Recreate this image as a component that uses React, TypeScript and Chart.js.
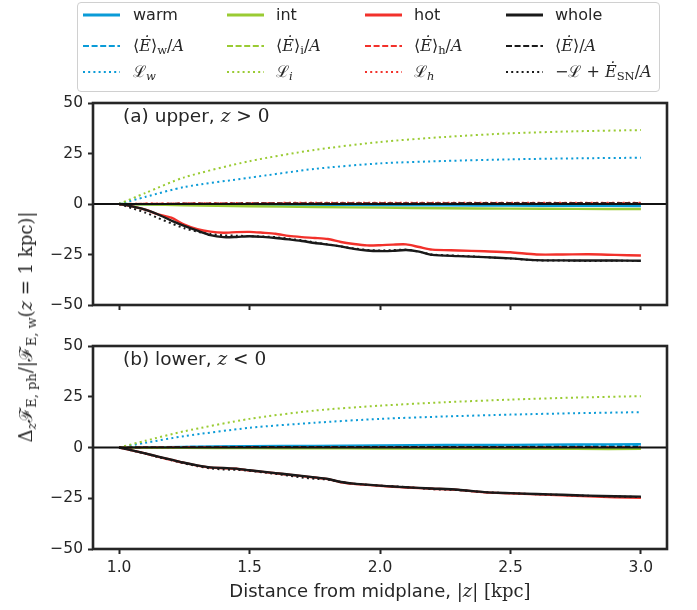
import React, { useEffect, useRef } from "react";
import { Chart, registerables } from "chart.js";
Chart.register(...registerables);

// ---------- data ----------
const xTicks = [1.0, 1.5, 2.0, 2.5, 3.0];
const yTicks = [-50, -25, 0, 25, 50];

const xFine = [1.0, 1.05, 1.1, 1.15, 1.2, 1.25, 1.3, 1.35, 1.4, 1.45, 1.5, 1.55, 1.6, 1.65, 1.7, 1.75, 1.8, 1.85, 1.9, 1.95, 2.0, 2.05, 2.1, 2.15, 2.2, 2.3, 2.4, 2.5, 2.6, 2.7, 2.8, 2.9, 3.0];
const xCoarse = [1.0, 1.1, 1.25, 1.5, 1.75, 2.0, 2.25, 2.5, 2.75, 3.0];

// upper panel (z > 0)
const upWarm = [0, -0.1, -0.2, -0.4, -0.5, -0.6, -0.7, -0.8, -0.9, -1.0];
const upEw = [0, 0.1, 0.1, 0.2, 0.2, 0.2, 0.2, 0.2, 0.2, 0.2];
const upLw = [0, 3.5, 8.4, 13.0, 17.4, 20.1, 21.3, 22.1, 22.6, 22.9];
const upInt = [0, -0.3, -0.6, -1.1, -1.5, -1.8, -2.1, -2.3, -2.4, -2.5];
const upEi = [0, 0, -0.1, -0.1, -0.1, -0.1, -0.1, -0.1, -0.1, -0.1];
const upLi = [0, 5.4, 13.2, 21.2, 26.8, 30.7, 33.2, 35.0, 36.0, 36.6];
const upHot = [0, -1.2, -2.8, -5.1, -6.8, -10.2, -12.5, -13.7, -14.2, -13.9, -13.8, -14.2, -14.7, -15.8, -16.4, -16.8, -17.3, -18.8, -19.8, -20.5, -20.4, -20.1, -20.0, -21.3, -22.6, -23.0, -23.4, -23.9, -25.0, -25.0, -24.9, -25.2, -25.5];
const upEh = [0, 0.2, 0.3, 0.4, 0.5, 0.5, 0.5, 0.6, 0.6, 0.6];
const upLh = [0, 0.2, 0.3, 0.5, 0.6, 0.6, 0.6, 0.6, 0.6, 0.6];
const upWhole = [0, -1.2, -2.8, -5.2, -8.2, -10.8, -13.2, -15.4, -16.4, -16.3, -16.0, -16.3, -16.8, -17.5, -18.3, -19.3, -20.1, -21.0, -22.2, -23.0, -23.3, -23.2, -22.8, -23.6, -25.2, -25.8, -26.3, -26.9, -27.8, -27.9, -28.0, -28.0, -28.1];
const upE = [0, 0.1, 0.2, 0.3, 0.4, 0.4, 0.4, 0.5, 0.5, 0.5];
const upBudget = [0, -2.1, -4.2, -7.0, -9.6, -12.0, -13.7, -14.9, -15.5, -15.7, -15.9, -16.1, -16.4, -17.2, -18.0, -19.0, -20.0, -21.0, -22.0, -22.7, -23.0, -22.8, -22.6, -23.6, -25.0, -25.6, -26.3, -27.0, -27.9, -28.0, -28.2, -28.1, -28.2];

// lower panel (z < 0)
const loWarm = [0, 0.1, 0.3, 0.6, 0.8, 1.0, 1.2, 1.3, 1.5, 1.6];
const loEw = [0, 0.2, 0.4, 0.6, 0.7, 0.8, 0.9, 0.9, 1.0, 1.0];
const loLw = [0, 2.3, 5.6, 9.7, 12.2, 14.1, 15.3, 16.2, 16.9, 17.4];
const loInt = [0, -0.1, -0.2, -0.3, -0.4, -0.5, -0.6, -0.6, -0.7, -0.7];
const loEi = [0, 0, -0.1, -0.1, -0.1, -0.1, -0.1, -0.1, -0.1, -0.1];
const loLi = [0, 3.3, 8.0, 14.1, 18.2, 20.6, 22.3, 23.6, 24.6, 25.3];
const loHot = [0, -1.4, -2.9, -4.6, -6.1, -7.6, -8.9, -9.9, -10.2, -10.5, -11.3, -12.0, -12.7, -13.4, -14.1, -14.8, -15.6, -17.1, -17.9, -18.4, -18.9, -19.3, -19.7, -20.0, -20.3, -20.9, -22.1, -22.6, -23.1, -23.6, -24.1, -24.5, -24.8];
const loEh = [0, 0.1, 0.2, 0.2, 0.3, 0.3, 0.3, 0.3, 0.3, 0.3];
const loLh = [0, 0.1, 0.2, 0.3, 0.3, 0.3, 0.3, 0.3, 0.3, 0.3];
const loWhole = [0, -1.4, -2.9, -4.5, -6.0, -7.5, -8.8, -9.8, -10.1, -10.4, -11.2, -11.9, -12.6, -13.3, -14.0, -14.7, -15.5, -17.0, -17.8, -18.3, -18.8, -19.2, -19.6, -19.9, -20.2, -20.8, -22.0, -22.5, -22.9, -23.3, -23.7, -24.0, -24.2];
const loE = [0, 0.1, 0.2, 0.3, 0.3, 0.4, 0.4, 0.4, 0.4, 0.4];
const loBudget = [0, -1.5, -3.0, -4.7, -6.3, -7.8, -9.2, -10.3, -10.8, -11.0, -11.5, -12.2, -13.0, -13.9, -14.8, -15.4, -15.8, -17.0, -17.8, -18.3, -18.8, -19.1, -19.5, -20.0, -20.5, -21.0, -22.0, -22.5, -23.0, -23.4, -23.8, -24.1, -24.4];

// ---------- styles ----------
const BLUE = "#0a9bd7";
const GREEN = "#9acb33";
const RED = "#f2312b";
const BLACK = "#1a1a1a";
const INK = "#262626";

type Sty = "solid" | "dashed" | "dotted";
const DASH: Record<Sty, number[]> = { solid: [], dashed: [5.5, 2.4], dotted: [2, 3.3] };
const WIDTH: Record<Sty, number> = { solid: 2.4, dashed: 1.6, dotted: 2 };

type Series = { color: string; sty: Sty; xs: number[]; up: number[]; lo: number[] };
// plotting order as in the original (column-major legend order)
const SERIES: Series[] = [
  { color: BLUE, sty: "solid", xs: xCoarse, up: upWarm, lo: loWarm },
  { color: BLUE, sty: "dashed", xs: xCoarse, up: upEw, lo: loEw },
  { color: BLUE, sty: "dotted", xs: xCoarse, up: upLw, lo: loLw },
  { color: GREEN, sty: "solid", xs: xCoarse, up: upInt, lo: loInt },
  { color: GREEN, sty: "dashed", xs: xCoarse, up: upEi, lo: loEi },
  { color: GREEN, sty: "dotted", xs: xCoarse, up: upLi, lo: loLi },
  { color: RED, sty: "solid", xs: xFine, up: upHot, lo: loHot },
  { color: RED, sty: "dashed", xs: xCoarse, up: upEh, lo: loEh },
  { color: RED, sty: "dotted", xs: xCoarse, up: upLh, lo: loLh },
  { color: BLACK, sty: "solid", xs: xFine, up: upWhole, lo: loWhole },
  { color: BLACK, sty: "dashed", xs: xCoarse, up: upE, lo: loE },
  { color: BLACK, sty: "dotted", xs: xFine, up: upBudget, lo: loBudget },
];

function makeDatasets(which: "up" | "lo") {
  return SERIES.map((s, i) => ({
    data: s.xs.map((x, k) => ({ x, y: s[which][k] })),
    borderColor: s.color,
    backgroundColor: s.color,
    borderWidth: WIDTH[s.sty],
    borderDash: DASH[s.sty],
    borderCapStyle: "butt" as const,
    pointRadius: 0,
    tension: 0.25,
    fill: false,
    order: 100 - i,
  }));
}

const framePlugin = {
  id: "frame",
  afterDatasetsDraw(chart: any) {
    const { ctx, chartArea } = chart;
    const { left, right, top, bottom } = chartArea;
    const y0 = chart.scales.y.getPixelForValue(0);
    ctx.save();
    ctx.strokeStyle = "#111";
    ctx.lineWidth = 1.8;
    ctx.beginPath();
    ctx.moveTo(left, y0);
    ctx.lineTo(right, y0);
    ctx.stroke();
    ctx.strokeStyle = INK;
    ctx.lineWidth = 2.6;
    ctx.strokeRect(left, top, right - left, bottom - top);
    ctx.restore();
  },
};

function buildConfig(which: "up" | "lo", padTop: number, xAxisH: number, showX: boolean): any {
  const tickFont = { family: "DejaVu Sans", size: 15.5 };
  return {
    type: "line",
    data: { datasets: makeDatasets(which) },
    plugins: [framePlugin],
    options: {
      responsive: false,
      animation: false,
      devicePixelRatio: 1,
      layout: { padding: { top: padTop, right: 30, left: 0, bottom: 0 } },
      plugins: { legend: { display: false }, tooltip: { enabled: false } },
      scales: {
        x: {
          type: "linear",
          min: 0.9,
          max: 3.1,
          afterBuildTicks: (s: any) => {
            s.ticks = xTicks.map((v) => ({ value: v }));
          },
          afterFit: (s: any) => {
            s.height = xAxisH;
          },
          grid: { drawOnChartArea: false, drawTicks: true, tickLength: 5, tickWidth: 2, tickColor: INK },
          border: { display: false },
          ticks: {
            color: showX ? INK : "rgba(0,0,0,0)",
            font: tickFont,
            padding: 5,
            maxRotation: 0,
            autoSkip: false,
            callback: (v: any) => Number(v).toFixed(1),
          },
        },
        y: {
          type: "linear",
          min: -50,
          max: 50,
          afterBuildTicks: (s: any) => {
            s.ticks = yTicks.map((v) => ({ value: v }));
          },
          afterFit: (s: any) => {
            s.width = 93;
          },
          grid: { drawOnChartArea: false, drawTicks: true, tickLength: 5, tickWidth: 2, tickColor: INK },
          border: { display: false },
          ticks: {
            color: INK,
            font: tickFont,
            padding: 5,
            autoSkip: false,
            callback: (v: any) => (Number(v) < 0 ? "\u2212" + Math.abs(Number(v)) : String(v)),
          },
        },
      },
    },
  };
}

function Panel({ which, top, height, padTop, xAxisH, showX }: any) {
  const ref = useRef<HTMLCanvasElement>(null);
  useEffect(() => {
    const chart = new Chart(ref.current as HTMLCanvasElement, buildConfig(which, padTop, xAxisH, showX));
    return () => chart.destroy();
  }, []);
  return (
    <canvas
      ref={ref}
      width={697}
      height={height}
      style={{ position: "absolute", left: 0, top, width: 697, height }}
    />
  );
}

const MATH = "'DejaVu Serif', 'Liberation Serif', serif";
const SANS = "'DejaVu Sans', sans-serif";

const Sub = ({ children }: any) => (
  <span style={{ fontSize: "0.72em", position: "relative", top: "0.3em", fontStyle: "normal" }}>{children}</span>
);

const legendCols = [
  { lx: 83, tx: 133, color: BLUE, labels: [<span>warm</span>, <span style={{ fontFamily: MATH }}>⟨<i>Ė</i>⟩<Sub>w</Sub>/<i>A</i></span>, <span style={{ fontFamily: MATH }}>ℒ<Sub><i>w</i></Sub></span>] },
  { lx: 227, tx: 276, color: GREEN, labels: [<span>int</span>, <span style={{ fontFamily: MATH }}>⟨<i>Ė</i>⟩<Sub>i</Sub>/<i>A</i></span>, <span style={{ fontFamily: MATH }}>ℒ<Sub><i>i</i></Sub></span>] },
  { lx: 365, tx: 414, color: RED, labels: [<span>hot</span>, <span style={{ fontFamily: MATH }}>⟨<i>Ė</i>⟩<Sub>h</Sub>/<i>A</i></span>, <span style={{ fontFamily: MATH }}>ℒ<Sub><i>h</i></Sub></span>] },
  { lx: 506, tx: 555, color: BLACK, labels: [<span>whole</span>, <span style={{ fontFamily: MATH }}>⟨<i>Ė</i>⟩/<i>A</i></span>, <span style={{ fontFamily: MATH }}>−ℒ + <i>Ė</i><Sub>SN</Sub>/<i>A</i></span>] },
];
const legendRows = [15, 46, 72];
const legendStyles: Sty[] = ["solid", "dashed", "dotted"];

function Legend() {
  return (
    <div>
      <div
        style={{
          position: "absolute",
          left: 77,
          top: 2,
          width: 583,
          height: 90,
          border: "1px solid #d0d0d0",
          borderRadius: 4,
          background: "rgba(255,255,255,0.85)",
          boxSizing: "border-box",
        }}
      />
      {legendCols.map((c, ci) =>
        legendStyles.map((st, ri) => (
          <React.Fragment key={ci + "-" + ri}>
            <svg width={38} height={10} style={{ position: "absolute", left: c.lx, top: legendRows[ri] - 5 }}>
              <line
                x1={0}
                y1={5}
                x2={37}
                y2={5}
                stroke={c.color}
                strokeWidth={st === "solid" ? 3 : 2}
                strokeDasharray={st === "solid" ? undefined : st === "dashed" ? "6 2.6" : "2 3.2"}
              />
            </svg>
            <div
              style={{
                position: "absolute",
                left: c.tx,
                top: legendRows[ri],
                transform: "translateY(-50%)",
                fontFamily: SANS,
                fontSize: 16,
                lineHeight: 1,
                whiteSpace: "nowrap",
                color: INK,
              }}
            >
              {c.labels[ri]}
            </div>
          </React.Fragment>
        ))
      )}
    </div>
  );
}

const panelLabelStyle: any = {
  position: "absolute",
  left: 123,
  transform: "translateY(-50%)",
  fontFamily: SANS,
  fontSize: 18.5,
  color: INK,
  whiteSpace: "nowrap",
  lineHeight: 1,
};

export default function App() {
  return (
    <div style={{ position: "absolute", left: 0, top: 0, width: 697, height: 610, background: "#fff", overflow: "hidden" }}>
      <Panel which="up" top={0} height={320} padTop={103} xAxisH={15} showX={false} />
      <Panel which="lo" top={320} height={290} padTop={26} xAxisH={61} showX={true} />
      <Legend />
      <div style={{ ...panelLabelStyle, top: 116 }}>
        (a) upper, <span style={{ fontFamily: MATH }}><i>z</i> &gt; 0</span>
      </div>
      <div style={{ ...panelLabelStyle, top: 359 }}>
        (b) lower, <span style={{ fontFamily: MATH }}><i>z</i> &lt; 0</span>
      </div>
      <div style={{ position: "absolute", left: 380, top: 591, transform: "translate(-50%,-50%)", fontFamily: SANS, fontSize: 18, color: INK, whiteSpace: "nowrap", lineHeight: 1 }}>
        Distance from midplane, <span style={{ fontFamily: MATH }}>|<i>z</i>| [kpc]</span>
      </div>
      <div
        style={{
          position: "absolute",
          left: 26,
          top: 327,
          transform: "translate(-50%,-50%) rotate(-90deg)",
          fontFamily: MATH,
          fontSize: 18,
          color: INK,
          whiteSpace: "nowrap",
          lineHeight: 1,
        }}
      >
        Δ<Sub><i>z</i></Sub>ℱ<Sub>E, ph</Sub>/|ℱ<Sub>E, w</Sub>(<i>z</i> = 1 kpc)|
      </div>
    </div>
  );
}
